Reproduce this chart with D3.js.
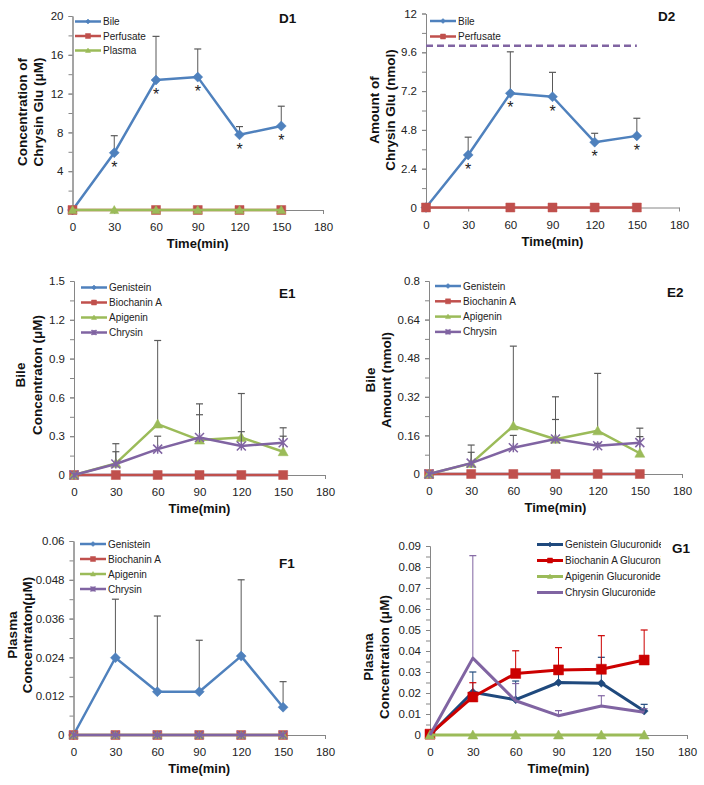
<!DOCTYPE html>
<html><head><meta charset="utf-8">
<script src="https://cdn.jsdelivr.net/npm/d3@7"></script>
<style>
body{margin:0;background:#fff}
svg{display:block}
text{font-family:"Liberation Sans",Arial,sans-serif}
</style>
</head><body>
<svg id="c" width="704" height="785"></svg>
<script>
// ---------------- data ----------------
const times = [0, 30, 60, 90, 120, 150];
const xTickLabels = ["0", "30", "60", "90", "120", "150", "180"];

// D1 : concentration of chrysin glucuronide (µM)
const d1Ticks = ["0", "4", "8", "12", "16", "20"];
const d1Bile = [0, 5.9, 13.4, 13.7, 7.75, 8.66];
const d1BileSD = [0, 1.76, 4.5, 2.9, 0.85, 2.04];
const d1Perfusate = [0, null, 0, 0, 0, 0];
const d1Plasma = [0, 0, 0, 0, 0, 0];
const d1Stars = [false, true, true, true, true, true];

// D2 : amount of chrysin glucuronide (nmol)
const d2Ticks = ["0", "2.4", "4.8", "7.2", "9.6", "12"];
const d2Bile = [0, 3.25, 7.06, 6.85, 4.04, 4.43];
const d2BileSD = [0, 1.1, 2.57, 1.51, 0.55, 1.09];
const d2Perfusate = [0, null, 0, 0, 0, 0];
const d2Dose = [10, 10];
const d2DoseTimes = [0, 150];
const d2Stars = [false, true, true, true, true, true];

// E1 : bile concentration (µM)
const e1Ticks = ["0", "0.3", "0.6", "0.9", "1.2", "1.5"];
const e1Genistein = [0, 0, 0, 0, 0, 0];
const e1Biochanin = [0, 0, 0, 0, 0, 0];
const e1Apigenin = [0, 0.09, 0.394, 0.27, 0.29, 0.18];
const e1ApigeninSD = [0, 0.152, 0.646, 0.28, 0.34, 0.185];
const e1Chrysin = [0, 0.085, 0.2, 0.29, 0.224, 0.25];
const e1ChrysinSD = [0, 0.095, 0.1, 0.176, 0.111, 0.05];

// E2 : bile amount (nmol)
const e2Ticks = ["0", "0.16", "0.32", "0.48", "0.64", "0.8"];
const e2Genistein = [0, 0, 0, 0, 0, 0];
const e2Biochanin = [0, 0, 0, 0, 0, 0];
const e2Apigenin = [0, 0.044, 0.199, 0.144, 0.179, 0.086];
const e2ApigeninSD = [0, 0.076, 0.331, 0.176, 0.238, 0.104];
const e2Chrysin = [0, 0.045, 0.109, 0.145, 0.117, 0.13];
const e2ChrysinSD = [0, 0.045, 0.051, 0.081, 0.01, 0.025];

// F1 : plasma concentration (µM)
const f1Ticks = ["0", "0.012", "0.024", "0.036", "0.048", "0.06"];
const f1Genistein = [0, 0.0239, 0.0134, 0.0134, 0.0244, 0.0086];
const f1GenisteinSD = [0, 0.0181, 0.0234, 0.0159, 0.0236, 0.0079];
const f1Biochanin = [0, 0, 0, 0, 0, 0];
const f1Apigenin = [0, 0, 0, 0, 0, 0];
const f1Chrysin = [0, 0, 0, 0, 0, 0];

// G1 : plasma concentration of glucuronides (µM)
const g1Ticks = ["0", "0.01", "0.02", "0.03", "0.04", "0.05", "0.06", "0.07", "0.08", "0.09"];
const g1Genistein = [0, 0.0204, 0.0168, 0.025, 0.0246, 0.0114];
const g1GenisteinSD = [0, 0.0096, 0.0089, 0.004, 0.0124, 0.0032];
const g1Biochanin = [0.0004, 0.0181, 0.0293, 0.031, 0.0313, 0.0357];
const g1BiochaninSD = [0, 0.0068, 0.0108, 0.0106, 0.016, 0.0143];
const g1Apigenin = [0, 0, 0, 0, 0, 0];
const g1Chrysin = [0, 0.0366, 0.0163, 0.0092, 0.0138, 0.0108];
const g1ChrysinSD = [0, 0.0488, 0.0082, 0.0024, 0.0049, 0.0017];

// ---------------- drawing ----------------
const C = {blue:"#4F81BD", red:"#C0504D", green:"#9BBB59", purple:"#8064A2",
           navy:"#1F497D", brightRed:"#CC0000"};
const svg = d3.select("#c");
const defs = svg.append("defs");

function markerPath(type, s) {
  const r = s / 2;
  if (type === "diamond") return `M0,${-r}L${r},0L0,${r}L${-r},0Z`;
  if (type === "square") return `M${-r},${-r}H${r}V${r}H${-r}Z`;
  if (type === "triangle") return `M0,${-r}L${r},${r*0.8}L${-r},${r*0.8}Z`;
  if (type === "star") return `M${-r},${-r}L${r},${r}M${-r},${r}L${r},${-r}M0,${-r}V${r}`;
  return "";
}
function drawMarker(g, type, color, s, px, py) {
  if (!type || type === "none") return;
  const p = g.append("path").attr("d", markerPath(type, s))
    .attr("transform", `translate(${px},${py})`);
  if (type === "star") p.attr("fill", "none").attr("stroke", color).attr("stroke-width", 1.5);
  else p.attr("fill", color).attr("stroke", color).attr("stroke-width", 0.5);
}

function styleAxis(sel) {
  sel.select(".domain").attr("stroke", "#868686").attr("stroke-width", 1);
  sel.selectAll(".tick line").attr("stroke", "#868686");
  sel.selectAll(".tick text").attr("fill", "#222").style("font-size", "11.5px")
     .style("font-family", '"Liberation Sans",Arial,sans-serif');
}

let clipId = 0;
function drawPanel(c) {
  const yVals = c.yTicks.map(Number);
  const yMax = yVals[yVals.length - 1];
  const x = d3.scaleLinear().domain([0, 180]).range([c.L, c.R]);
  const y = d3.scaleLinear().domain([0, yMax]).range([c.B, c.T]);
  const g = svg.append("g");

  // axes
  const step = yVals[1] - yVals[0];
  const minor = d3.range(0, (yVals.length - 1) * 2 + 1).map(i => i * step / 2);
  g.append("g").attr("transform", `translate(${c.L},0)`)
    .call(d3.axisLeft(y).tickValues(minor).tickSize(4).tickSizeOuter(0).tickFormat(""))
    .call(styleAxis);
  g.append("g").attr("transform", `translate(${c.L},0)`)
    .call(d3.axisLeft(y).tickValues(yVals).tickSize(4).tickSizeOuter(0).tickPadding(5)
      .tickFormat((d, i) => c.yTicks[i]))
    .call(styleAxis);
  g.append("g").attr("transform", `translate(0,${c.B})`)
    .call(d3.axisBottom(x).tickValues(xTickLabels.map(Number)).tickSize(4).tickSizeOuter(0)
      .tickPadding(9).tickFormat((d, i) => xTickLabels[i]))
    .call(styleAxis);

  // axis titles
  g.append("text").attr("x", (c.L + c.R) / 2).attr("y", c.B + 38)
    .attr("text-anchor", "middle").attr("font-weight", "bold").attr("font-size", 13)
    .attr("fill", "#111").text("Time(min)");
  c.yTitle.forEach((t, i) => {
    g.append("text").attr("transform", `translate(${c.yTitleX[i]},${c.yTitleY}) rotate(-90)`)
      .attr("text-anchor", "middle").attr("font-weight", "bold").attr("font-size", 13.5)
      .attr("fill", "#111").text(t);
  });
  g.append("text").attr("x", c.titleX).attr("y", c.titleY)
    .attr("font-weight", "bold").attr("font-size", 13.5).attr("fill", "#111").text(c.title);

  // reference (dashed) lines
  (c.refs || []).forEach(r => {
    g.append("path").attr("d", d3.line().x((d, i) => x(r.t[i])).y(d => y(d))(r.v))
      .attr("stroke", r.color).attr("stroke-width", 2.5).attr("stroke-dasharray", "7,4")
      .attr("fill", "none");
  });

  // series
  c.series.forEach(s => {
    const pts = times.map((t, i) => ({t, v: s.v[i], e: s.sd ? s.sd[i] : 0}))
      .filter(p => p.v !== null);
    g.append("path")
      .attr("d", d3.line().x(p => x(p.t)).y(p => y(p.v))(pts))
      .attr("fill", "none").attr("stroke", s.color).attr("stroke-width", s.w || 2.5)
      .attr("stroke-linejoin", "round");
    if (s.sd) {
      const ec = s.errColor || "#595959";
      pts.forEach(p => {
        if (p.e > 0) {
          const x0 = x(p.t), ya = y(p.v), yb = y(p.v + p.e);
          g.append("line").attr("x1", x0).attr("x2", x0).attr("y1", ya).attr("y2", yb)
            .attr("stroke", ec).attr("stroke-width", 1);
          g.append("line").attr("x1", x0 - 3.5).attr("x2", x0 + 3.5).attr("y1", yb).attr("y2", yb)
            .attr("stroke", ec).attr("stroke-width", 1.2);
        }
      });
    }
    pts.forEach(p => drawMarker(g, s.marker, s.color, s.size || 9, x(p.t), y(p.v)));
  });

  // significance stars
  if (c.stars) {
    c.stars.flags.forEach((f, i) => {
      if (!f) return;
      g.append("text").attr("x", x(times[i])).attr("y", y(c.stars.v[i]) + 20)
        .attr("text-anchor", "middle").attr("font-size", 16).attr("fill", "#222").text("*");
    });
  }

  // legend
  const lg = g.append("g");
  if (c.legClip) {
    const id = "clip" + (clipId++);
    defs.append("clipPath").attr("id", id).append("rect")
      .attr("x", 0).attr("y", 0).attr("width", c.legClip).attr("height", 785);
    lg.attr("clip-path", `url(#${id})`);
  }
  c.series.forEach((s, i) => {
    const yy = c.legY + i * c.legDy;
    lg.append("line").attr("x1", c.legX).attr("x2", c.legX + 26).attr("y1", yy).attr("y2", yy)
      .attr("stroke", s.color).attr("stroke-width", s.w || 2.5);
    drawMarker(lg, s.marker, s.color, 5, c.legX + 13, yy);
    lg.append("text").attr("x", c.legX + 28).attr("y", yy).attr("dy", "0.35em")
      .attr("font-size", 10).attr("fill", "#222").text(s.name);
  });
}

drawPanel({
  L: 72.5, R: 323, T: 16, B: 210, yTicks: d1Ticks,
  title: "D1", titleX: 279, titleY: 23,
  yTitle: ["Concentration of", "Chrysin Glu (\u03bcM)"], yTitleX: [27, 43], yTitleY: 112,
  legX: 75, legY: 21.5, legDy: 14.5,
  stars: {flags: d1Stars, v: d1Bile},
  series: [
    {name: "Bile", v: d1Bile, sd: d1BileSD, color: C.blue, marker: "diamond", size: 10},
    {name: "Perfusate", v: d1Perfusate, color: C.red, marker: "square", size: 9},
    {name: "Plasma", v: d1Plasma, color: C.green, marker: "triangle", size: 9}
  ]
});

drawPanel({
  L: 426, R: 679, T: 13.5, B: 207.5, yTicks: d2Ticks,
  title: "D2", titleX: 658, titleY: 21,
  yTitle: ["Amount of", "Chrysin Glu (nmol)"], yTitleX: [379, 394.5], yTitleY: 110,
  legX: 430, legY: 21, legDy: 15.5,
  refs: [{t: d2DoseTimes, v: d2Dose, color: "#8064A2"}],
  stars: {flags: d2Stars, v: d2Bile},
  series: [
    {name: "Bile", v: d2Bile, sd: d2BileSD, color: C.blue, marker: "diamond", size: 10},
    {name: "Perfusate", v: d2Perfusate, color: C.red, marker: "square", size: 9}
  ]
});

drawPanel({
  L: 74, R: 325, T: 281, B: 475, yTicks: e1Ticks,
  title: "E1", titleX: 279, titleY: 298,
  yTitle: ["Bile", "Concentraton (\u03bcM)"], yTitleX: [25, 41.5], yTitleY: 375,
  legX: 81, legY: 287.5, legDy: 15,
  series: [
    {name: "Genistein", v: e1Genistein, color: C.blue, marker: "diamond", size: 6},
    {name: "Biochanin A", v: e1Biochanin, color: C.red, marker: "square", size: 9},
    {name: "Apigenin", v: e1Apigenin, sd: e1ApigeninSD, color: C.green, marker: "triangle", size: 10},
    {name: "Chrysin", v: e1Chrysin, sd: e1ChrysinSD, color: C.purple, marker: "star", size: 9}
  ]
});

drawPanel({
  L: 429, R: 682, T: 281, B: 474, yTicks: e2Ticks,
  title: "E2", titleX: 667, titleY: 297,
  yTitle: ["Bile", "Amount (nmol)"], yTitleX: [374.5, 390.5], yTitleY: 380,
  legX: 435, legY: 286, legDy: 15.3,
  series: [
    {name: "Genistein", v: e2Genistein, color: C.blue, marker: "diamond", size: 6},
    {name: "Biochanin A", v: e2Biochanin, color: C.red, marker: "square", size: 9},
    {name: "Apigenin", v: e2Apigenin, sd: e2ApigeninSD, color: C.green, marker: "triangle", size: 10},
    {name: "Chrysin", v: e2Chrysin, sd: e2ChrysinSD, color: C.purple, marker: "star", size: 9}
  ]
});

drawPanel({
  L: 73.5, R: 325, T: 541, B: 735, yTicks: f1Ticks,
  title: "F1", titleX: 279, titleY: 567.5,
  yTitle: ["Plasma", "Concentraton(\u03bcM)"], yTitleX: [17, 32], yTitleY: 635,
  legX: 80, legY: 544, legDy: 15,
  series: [
    {name: "Genistein", v: f1Genistein, sd: f1GenisteinSD, color: C.blue, marker: "diamond", size: 10},
    {name: "Biochanin A", v: f1Biochanin, color: C.red, marker: "square", size: 9},
    {name: "Apigenin", v: f1Apigenin, color: C.green, marker: "triangle", size: 9},
    {name: "Chrysin", v: f1Chrysin, color: C.purple, marker: "star", size: 8}
  ]
});

drawPanel({
  L: 430, R: 687, T: 546, B: 735, yTicks: g1Ticks,
  title: "G1", titleX: 672, titleY: 552.5,
  yTitle: ["Plasma", "Concentration (\u03bcM)"], yTitleX: [372.5, 389], yTitleY: 657,
  legX: 537, legY: 544.5, legDy: 16,
  legClip: 661,
  series: [
    {name: "Genistein Glucuronide", v: g1Genistein, sd: g1GenisteinSD, color: C.navy, errColor: C.navy, marker: "diamond", size: 8, w: 3},
    {name: "Biochanin A Glucuronide", v: g1Biochanin, sd: g1BiochaninSD, color: C.brightRed, errColor: C.brightRed, marker: "square", size: 10, w: 3},
    {name: "Apigenin Glucuronide", v: g1Apigenin, color: C.green, marker: "triangle", size: 10, w: 3},
    {name: "Chrysin Glucuronide", v: g1Chrysin, sd: g1ChrysinSD, color: C.purple, errColor: C.purple, marker: "none", w: 3}
  ]
});
</script>
</body></html>
